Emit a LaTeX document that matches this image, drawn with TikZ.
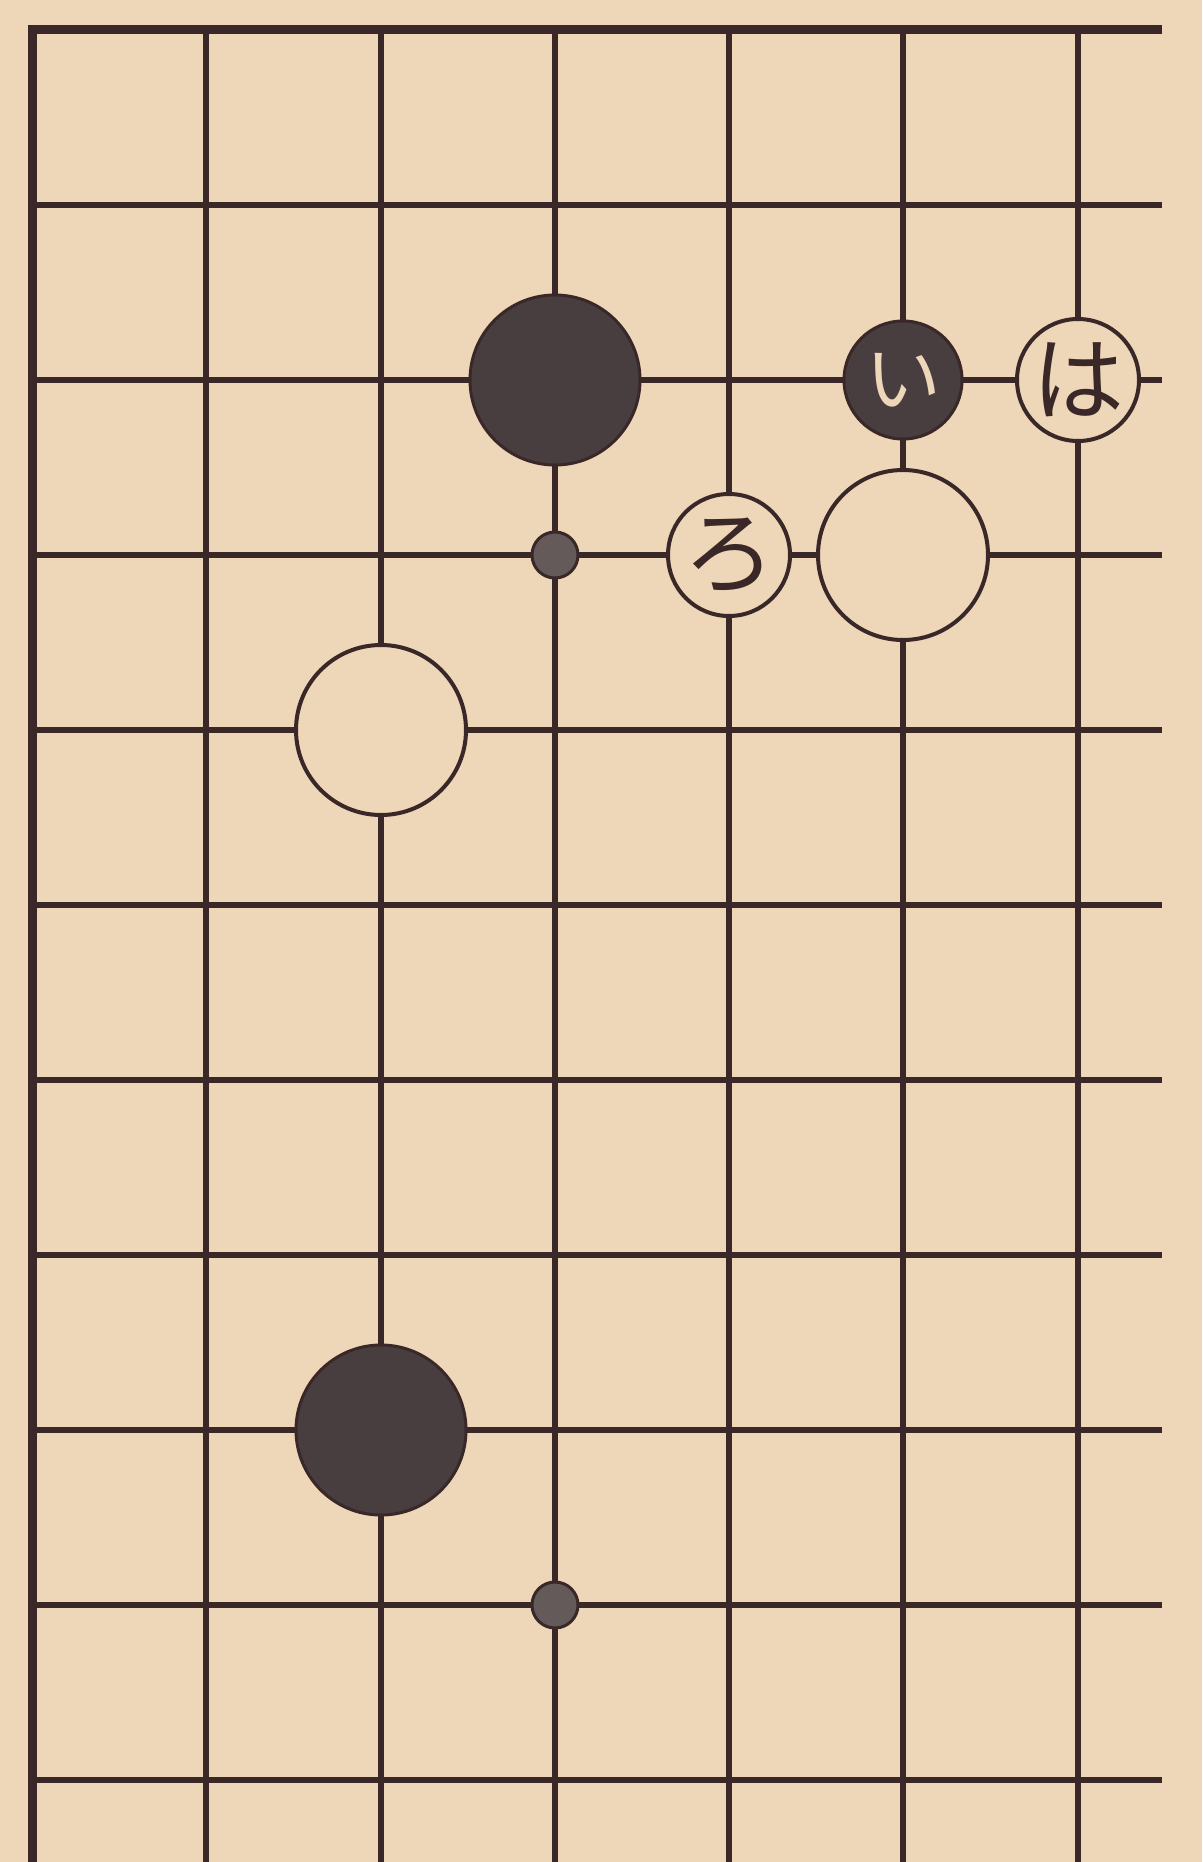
\documentclass[tikz,border=0pt]{standalone}
\usepackage{fontspec}
\newfontfamily\jpfont{Noto Sans CJK JP}
\definecolor{paper}{RGB}{238,214,184}
\definecolor{ink}{RGB}{58,40,40}
\definecolor{stoneblk}{RGB}{72,62,64}
\definecolor{stonedot}{RGB}{100,90,90}
\tikzset{
  bigblack/.style={circle, draw=ink, fill=stoneblk, line width=3pt, minimum size=170pt, inner sep=0pt},
  bigwhite/.style={circle, draw=ink, fill=paper, line width=4pt, minimum size=170pt, inner sep=0pt},
  markwhite/.style={circle, draw=ink, fill=paper, line width=4pt, minimum size=122pt, inner sep=0pt,
    text=ink, font=\jpfont\fontsize{92}{94}\selectfont},
  markblack/.style={circle, draw=ink, fill=stoneblk, line width=3pt, minimum size=118pt, inner sep=0pt,
    text=paper, font=\jpfont\fontsize{76}{78}\selectfont},
  stardot/.style={circle, draw=ink, fill=stonedot, line width=3pt, minimum size=46pt, inner sep=0pt}
}
\begin{document}
\begin{tikzpicture}[x=1pt, y=-1pt, line width=6.5pt, line cap=butt, ink]

  %% ════ 底色 ════
  \fill[paper] (0,0) rectangle (1202,1862);

  %% ════ 外框（上、左）════
  \draw[line width=9pt, line join=miter] (1162,30) -- (32,30) -- (32,1862);

  %% ════ 纵线 ════
  \draw (206,30) -- (206,1862);
  \draw (381,30) -- (381,1862);
  \draw (555,30) -- (555,1862);
  \draw (729,30) -- (729,1862);
  \draw (903,30) -- (903,1862);
  \draw (1078,30) -- (1078,1862);

  %% ════ 横线 ════
  \draw (32,205) -- (1162,205);
  \draw (32,380) -- (1162,380);
  \draw (32,555) -- (1162,555);
  \draw (32,730) -- (1162,730);
  \draw (32,905) -- (1162,905);
  \draw (32,1080) -- (1162,1080);
  \draw (32,1255) -- (1162,1255);
  \draw (32,1430) -- (1162,1430);
  \draw (32,1605) -- (1162,1605);
  \draw (32,1780) -- (1162,1780);

  %% ════ 棋子 ════
  \node[bigblack] (blackA) at (555,380) {};
  \node[markblack] (markI) at (903,380) {い};
  \node[markwhite] (markHa) at (1078,380) {は};
  \node[stardot] (dotA) at (555,555) {};
  \node[markwhite] (markRo) at (729,555) {ろ};
  \node[bigwhite] (whiteA) at (903,555) {};
  \node[bigwhite] (whiteB) at (381,730) {};
  \node[bigblack] (blackB) at (381,1430) {};
  \node[stardot] (dotB) at (555,1605) {};

  % 钉死画布
  \pgfresetboundingbox
  \path[use as bounding box] (0,0) rectangle (1202,1862);
\end{tikzpicture}
\end{document}
